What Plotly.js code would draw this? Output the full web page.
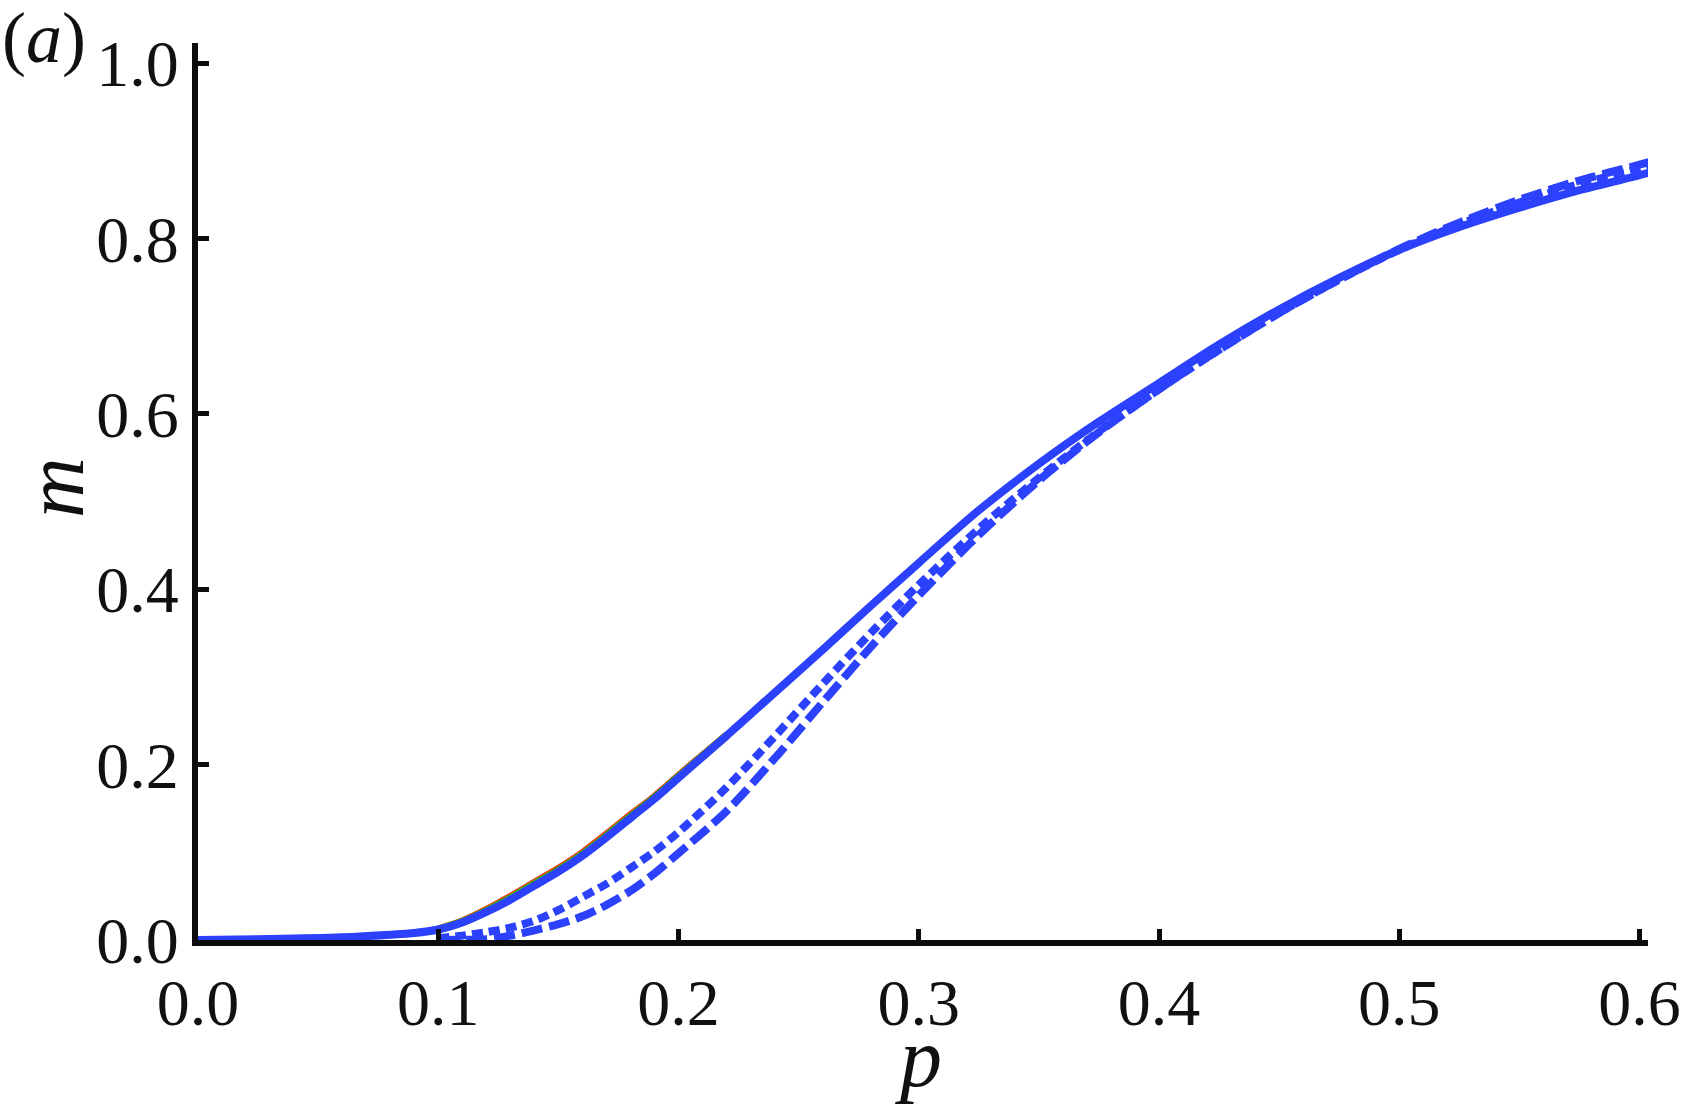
<!DOCTYPE html>
<html>
<head>
<meta charset="utf-8">
<script src="https://cdn.plot.ly/plotly-3.0.1.min.js"></script>
<style>
  html, body { margin: 0; padding: 0; background: #fff; }
  #chart { width: 1683px; height: 1104px; }
</style>
</head>
<body>
<div id="chart"></div>
<script>
// solid curve
const pSolid = [0, 0.03, 0.06, 0.08, 0.09, 0.1, 0.11, 0.12, 0.13, 0.14, 0.15, 0.16, 0.17, 0.18, 0.19, 0.2, 0.22, 0.24, 0.26, 0.28, 0.3, 0.325, 0.35, 0.375, 0.4, 0.425, 0.45, 0.475, 0.5, 0.525, 0.55, 0.575, 0.6, 0.604];
const mSolid = [0, 0.001, 0.003, 0.006, 0.008, 0.012, 0.020, 0.032, 0.046, 0.062, 0.078, 0.096, 0.117, 0.139, 0.161, 0.185, 0.233, 0.282, 0.331, 0.381, 0.430, 0.490, 0.543, 0.591, 0.635, 0.679, 0.719, 0.755, 0.787, 0.813, 0.835, 0.855, 0.872, 0.875];

// thin red / green fringes under the solid blue line
const pFringe = [0.1, 0.11, 0.12, 0.13, 0.14, 0.15, 0.16, 0.17, 0.18, 0.19, 0.2, 0.22];
const mRed = [0.012, 0.021, 0.034, 0.049, 0.065, 0.081, 0.099, 0.120, 0.142, 0.163, 0.187, 0.233];
const mGreen = [0.012, 0.0205, 0.033, 0.0475, 0.0635, 0.0795, 0.0975, 0.1185, 0.1405, 0.162, 0.186, 0.233];

// dotted curve
const pDotted = [0.1, 0.11, 0.12, 0.13, 0.14, 0.15, 0.16, 0.17, 0.18, 0.19, 0.2, 0.22, 0.24, 0.26, 0.28, 0.3, 0.325, 0.35, 0.375, 0.4, 0.425, 0.45, 0.475, 0.5, 0.525, 0.55, 0.575, 0.6, 0.604];
const mDotted = [0.002, 0.005, 0.009, 0.014, 0.022, 0.034, 0.049, 0.064, 0.082, 0.101, 0.123, 0.174, 0.232, 0.292, 0.350, 0.405, 0.469, 0.527, 0.580, 0.628, 0.673, 0.715, 0.753, 0.787, 0.816, 0.841, 0.862, 0.880, 0.883];

// dashed curve
const pDashed = [0.1, 0.11, 0.12, 0.13, 0.14, 0.15, 0.16, 0.17, 0.18, 0.19, 0.2, 0.22, 0.24, 0.26, 0.28, 0.3, 0.325, 0.35, 0.375, 0.4, 0.425, 0.45, 0.475, 0.5, 0.525, 0.55, 0.575, 0.6, 0.604];
const mDashed = [0, 0.0003, 0.001, 0.005, 0.011, 0.018, 0.027, 0.040, 0.056, 0.076, 0.099, 0.147, 0.207, 0.271, 0.334, 0.393, 0.462, 0.524, 0.579, 0.628, 0.673, 0.715, 0.753, 0.788, 0.818, 0.844, 0.866, 0.884, 0.887];

const xTicks = [0, 0.1, 0.2, 0.3, 0.4, 0.5, 0.6];
const yTicks = [0, 0.2, 0.4, 0.6, 0.8, 1.0];

const blue = "#2b41fb";
const serif = "Liberation Serif";
const titleFont = {family: serif, size: 84, style: "italic", color: "#111"};

function curve(x, y, color, dash) {
    return {
        x: x, y: y, mode: "lines",
        line: {color: color, width: 8, dash: dash || "solid", shape: "spline", smoothing: 0.8}
    };
}

const traces = [
    curve(pFringe, mRed, "#ff2200"),
    curve(pFringe, mGreen, "#3cbf00"),
    curve(pSolid, mSolid, blue),
    curve(pDotted, mDotted, blue, "11px,6px"),
    curve(pDashed, mDashed, blue, "21px,7px")
];

const axisCommon = {
    showgrid: false,
    zeroline: false,
    showline: true,
    linewidth: 6,
    linecolor: "#0c0c0c",
    ticks: "inside",
    ticklen: 11,
    tickwidth: 5,
    tickcolor: "#0c0c0c",
    tickfont: {family: serif, size: 66, color: "#111"},
    layer: "above traces"
};

const layout = {
    width: 1683,
    height: 1104,
    margin: {l: 198, r: 35, t: 43, b: 164},
    paper_bgcolor: "#fff",
    plot_bgcolor: "#fff",
    showlegend: false,
    xaxis: Object.assign({}, axisCommon, {
        range: [0, 0.6035],
        tickvals: xTicks,
        ticktext: xTicks.map(v => v.toFixed(1))
    }),
    yaxis: Object.assign({}, axisCommon, {
        range: [0, 1.0228],
        tickvals: yTicks,
        ticktext: yTicks.map(v => v.toFixed(1))
    }),
    // axis titles placed as annotations so their distance from the labels can be set
    annotations: [
        {
            text: "p", font: titleFont,
            xref: "paper", yref: "paper", x: 0.497, y: -0.131,
            xanchor: "center", yanchor: "middle", showarrow: false
        },
        {
            text: "m", font: titleFont, textangle: -90,
            xref: "paper", yref: "paper", x: -0.0986, y: 0.504,
            xanchor: "center", yanchor: "middle", showarrow: false
        },
        {
            text: "(<i>a</i>)",
            xref: "paper", yref: "paper",
            x: -0.1366, y: 1.052,
            xanchor: "left", yanchor: "top",
            showarrow: false,
            font: {family: serif, size: 72, color: "#111"}
        }
    ]
};

Plotly.newPlot("chart", traces, layout, {staticPlot: true});
</script>
</body>
</html>
